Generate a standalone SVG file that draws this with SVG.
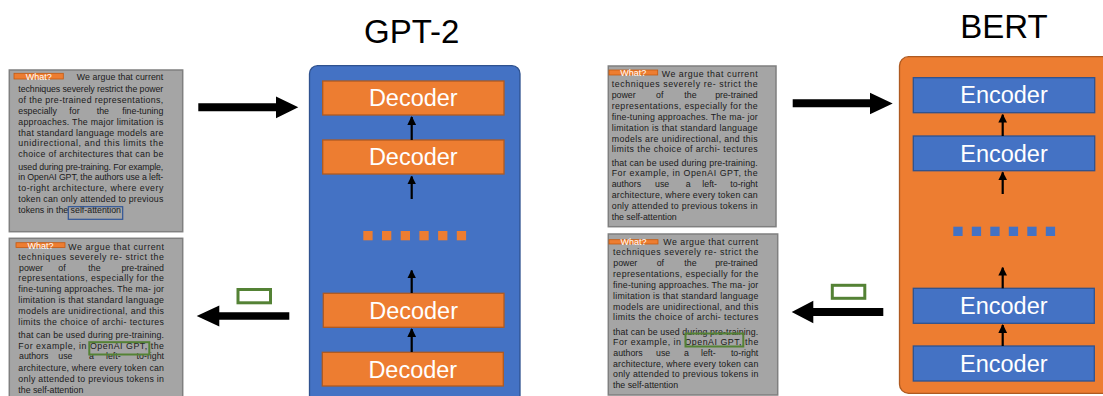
<svg xmlns="http://www.w3.org/2000/svg" width="1103" height="396" viewBox="0 0 1103 396">
<style>
.bg{fill:#ffffff}
.tbox{fill:#a5a5a5;stroke:#7f7f7f;stroke-width:1.5}
.lab{fill:#ed7d31;stroke:#c55a11;stroke-width:0.8}
.labt{font-family:"Liberation Sans",Arial,sans-serif;font-size:9px;fill:#ffffff;text-anchor:middle}
.t{font-family:"Liberation Sans",Arial,sans-serif;font-size:8.8px;fill:#1a1a1a}
.e{text-anchor:end}
.title{font-family:"Liberation Sans",Arial,sans-serif;font-size:33px;fill:#000000;text-anchor:middle}
.bluebox{fill:#4472c4;stroke:#2f528f;stroke-width:1.3}
.orbox{fill:#ed7d31;stroke:#ae5a21;stroke-width:1.3}
.lt{font-family:"Liberation Sans",Arial,sans-serif;font-size:23.5px;fill:#ffffff;text-anchor:middle}
.hl-blue{fill:none;stroke:#2f5597;stroke-width:1.2}
.hl-green{fill:none;stroke:#548235;stroke-width:2}
.gr{fill:#ffffff;stroke:#548235;stroke-width:3}
.big{fill:#000000}
.small{stroke:#000000;stroke-width:2.2;fill:none;marker-end:url(#ah)}
.dotO{fill:#ed7d31}
.dotB{fill:#4472c4}
</style>
<defs>
<marker id="ah" viewBox="0 0 10 10" refX="9" refY="5" markerWidth="4" markerHeight="4" orient="auto" markerUnits="strokeWidth">
<path d="M0,0 L10,5 L0,10 z" fill="#000000"/>
</marker>
</defs>
<rect class="bg" x="0" y="0" width="1103" height="396"/>

<g id="title-gpt2"><text class="title" x="411.7" y="42.5">GPT-2</text></g>
<g id="title-bert"><text class="title" x="1004" y="38.3">BERT</text></g>

<!-- Text box 1 -->
<g id="textbox-1">
<rect class="tbox" x="9.3" y="70" width="173.4" height="161.7"/>
<rect class="lab" x="14" y="73.3" width="49.3" height="5.7"/>
<text class="labt" x="38.7" y="80">What?</text>
<text class="t" x="76.7" y="80" textLength="86.6" lengthAdjust="spacing">We argue that current</text>
<text class="t" x="18.3" y="92" textLength="145" lengthAdjust="spacing">techniques severely restrict the power</text>
<text class="t" x="18.3" y="103" textLength="145" lengthAdjust="spacing">of the pre-trained representations,</text>
<text class="t" y="113.7"><tspan x="18.3">especially</tspan><tspan x="69.3">for</tspan><tspan x="96.7">the</tspan></text>
<text class="t e" x="163.3" y="113.7">fine-tuning</text>
<text class="t" x="18.3" y="124.7" textLength="145" lengthAdjust="spacing">approaches. The major limitation is</text>
<text class="t" x="18.3" y="135.7" textLength="145" lengthAdjust="spacing">that standard language models are</text>
<text class="t" x="18.3" y="146.3" textLength="145" lengthAdjust="spacing">unidirectional, and this limits the</text>
<text class="t" x="18.3" y="157" textLength="145" lengthAdjust="spacing">choice of architectures that can be</text>
<text class="t" x="18.3" y="170.3" textLength="145" lengthAdjust="spacing">used during pre-training. For example,</text>
<text class="t" x="18.3" y="180.3" textLength="145" lengthAdjust="spacing">in OpenAI GPT, the authors use a left-</text>
<text class="t" x="18.3" y="191" textLength="145" lengthAdjust="spacing">to-right architecture, where every</text>
<text class="t" x="18.3" y="201.7" textLength="145" lengthAdjust="spacing">token can only attended to previous</text>
<text class="t" x="18.3" y="213">tokens in the self-attention</text>
<rect class="hl-blue" x="68.3" y="206.7" width="54.4" height="12.6"/>
</g>

<!-- Text box 2 -->
<g id="textbox-2">
<rect class="tbox" x="9.3" y="238.3" width="173.4" height="165"/>
<rect class="lab" x="16" y="242.7" width="49" height="4.8"/>
<text class="labt" x="40.5" y="248.5">What?</text>
<text class="t" x="68.3" y="249.5" textLength="95.7" lengthAdjust="spacing">We argue that current</text>
<text class="t" x="18.3" y="260" textLength="145.7" lengthAdjust="spacing">techniques severely re- strict the</text>
<text class="t" y="270.5"><tspan x="19">power</tspan><tspan x="58.3">of</tspan><tspan x="88.3">the</tspan></text>
<text class="t e" x="164" y="270.5">pre-trained</text>
<text class="t" x="18.3" y="281" textLength="145.7" lengthAdjust="spacing">representations, especially for the</text>
<text class="t" x="18.3" y="292" textLength="145.7" lengthAdjust="spacing">fine-tuning approaches. The ma- jor</text>
<text class="t" x="18.3" y="303" textLength="145.7" lengthAdjust="spacing">limitation is that standard language</text>
<text class="t" x="18.3" y="314" textLength="145.7" lengthAdjust="spacing">models are unidirectional, and this</text>
<text class="t" x="18.3" y="325" textLength="145.7" lengthAdjust="spacing">limits the choice of archi- tectures</text>
<text class="t" x="18.3" y="337.5" textLength="145.7" lengthAdjust="spacing">that can be used during pre-training.</text>
<text class="t" x="18.3" y="348.7" textLength="145.7" lengthAdjust="spacing">For example, in OpenAI GPT, the</text>
<text class="t" y="359.3"><tspan x="19">authors</tspan><tspan x="58.3">use</tspan><tspan x="89">a</tspan><tspan x="106">left-</tspan></text>
<text class="t e" x="164" y="359.3">to-right</text>
<text class="t" x="18.3" y="370.5" textLength="145.7" lengthAdjust="spacing">architecture, where every token can</text>
<text class="t" x="18.3" y="381.7" textLength="145.7" lengthAdjust="spacing">only attended to previous tokens in</text>
<text class="t" x="18.3" y="393">the self-attention</text>
<rect class="hl-green" x="89.3" y="342.2" width="60" height="12.3"/>
</g>

<!-- Text box 3 -->
<g id="textbox-3">
<rect class="tbox" x="608.3" y="66" width="167.7" height="160.7"/>
<rect class="lab" x="609" y="70" width="48.7" height="5"/>
<text class="labt" x="633.3" y="76.3">What?</text>
<text class="t" x="661.7" y="77" textLength="96" lengthAdjust="spacing">We argue that current</text>
<text class="t" x="611.7" y="87.3" textLength="146" lengthAdjust="spacing">techniques severely re- strict the</text>
<text class="t" y="98"><tspan x="611.7">power</tspan><tspan x="656">of</tspan><tspan x="684.3">the</tspan></text>
<text class="t e" x="757.7" y="98">pre-trained</text>
<text class="t" x="611.7" y="108.7" textLength="146" lengthAdjust="spacing">representations, especially for the</text>
<text class="t" x="611.7" y="119.7" textLength="146" lengthAdjust="spacing">fine-tuning approaches. The ma- jor</text>
<text class="t" x="611.7" y="130.7" textLength="146" lengthAdjust="spacing">limitation is that standard language</text>
<text class="t" x="611.7" y="141.7" textLength="146" lengthAdjust="spacing">models are unidirectional, and this</text>
<text class="t" x="611.7" y="152.3" textLength="146" lengthAdjust="spacing">limits the choice of archi- tectures</text>
<text class="t" x="611.7" y="165.7" textLength="146" lengthAdjust="spacing">that can be used during pre-training.</text>
<text class="t" x="611.7" y="176.3" textLength="146" lengthAdjust="spacing">For example, in OpenAI GPT, the</text>
<text class="t" y="187"><tspan x="611.7">authors</tspan><tspan x="655">use</tspan><tspan x="685.7">a</tspan><tspan x="702.3">left-</tspan></text>
<text class="t e" x="757.7" y="187">to-right</text>
<text class="t" x="611.7" y="198" textLength="146" lengthAdjust="spacing">architecture, where every token can</text>
<text class="t" x="611.7" y="209" textLength="146" lengthAdjust="spacing">only attended to previous tokens in</text>
<text class="t" x="611.7" y="219.7">the self-attention</text>
</g>

<!-- Text box 4 -->
<g id="textbox-4">
<rect class="tbox" x="608.3" y="234" width="169.4" height="161"/>
<rect class="lab" x="609" y="239.7" width="49" height="4.3"/>
<text class="labt" x="633.5" y="245">What?</text>
<text class="t" x="663.3" y="245" textLength="95" lengthAdjust="spacing">We argue that current</text>
<text class="t" x="613" y="255.3" textLength="145.3" lengthAdjust="spacing">techniques severely re- strict the</text>
<text class="t" y="266"><tspan x="613.3">power</tspan><tspan x="656.7">of</tspan><tspan x="684.3">the</tspan></text>
<text class="t e" x="757.7" y="266">pre-trained</text>
<text class="t" x="613" y="276.7" textLength="145.3" lengthAdjust="spacing">representations, especially for the</text>
<text class="t" x="613" y="287.7" textLength="145.3" lengthAdjust="spacing">fine-tuning approaches. The ma- jor</text>
<text class="t" x="613" y="298.7" textLength="145.3" lengthAdjust="spacing">limitation is that standard language</text>
<text class="t" x="613" y="309.7" textLength="145.3" lengthAdjust="spacing">models are unidirectional, and this</text>
<text class="t" x="613" y="320.3" textLength="145.3" lengthAdjust="spacing">limits the choice of archi- tectures</text>
<text class="t" x="613" y="334.5" textLength="145.3" lengthAdjust="spacing">that can be used during pre-training.</text>
<text class="t" x="613" y="345.3" textLength="145.3" lengthAdjust="spacing">For example, in OpenAI GPT, the</text>
<text class="t" y="356.3"><tspan x="613.3">authors</tspan><tspan x="656">use</tspan><tspan x="684">a</tspan><tspan x="701">left-</tspan></text>
<text class="t e" x="758.3" y="356.3">to-right</text>
<text class="t" x="613" y="367" textLength="145.3" lengthAdjust="spacing">architecture, where every token can</text>
<text class="t" x="613" y="377.3" textLength="145.3" lengthAdjust="spacing">only attended to previous tokens in</text>
<text class="t" x="613" y="388">the self-attention</text>
<rect class="hl-green" x="685.5" y="333.5" width="57.8" height="13"/>
</g>

<!-- GPT-2 stack -->
<g id="gpt2-container">
<rect class="bluebox" x="309.5" y="65.7" width="210.5" height="340" rx="8"/>
</g>
<g id="decoder-1"><rect class="orbox" x="322.7" y="81" width="181.3" height="34"/><text class="lt" x="413.3" y="106.3">Decoder</text></g>
<g id="decoder-2"><rect class="orbox" x="322.7" y="140" width="181.3" height="34"/><text class="lt" x="413.3" y="165.3">Decoder</text></g>
<g id="decoder-dots">
<rect class="dotO" x="363.3" y="231" width="9.3" height="9.3"/>
<rect class="dotO" x="382" y="231" width="9.3" height="9.3"/>
<rect class="dotO" x="400.7" y="231" width="9.3" height="9.3"/>
<rect class="dotO" x="419.4" y="231" width="9.3" height="9.3"/>
<rect class="dotO" x="438.1" y="231" width="9.3" height="9.3"/>
<rect class="dotO" x="456.8" y="231" width="9.3" height="9.3"/>
</g>
<g id="decoder-3"><rect class="orbox" x="323.3" y="293.3" width="180.7" height="34"/><text class="lt" x="413.6" y="318.6">Decoder</text></g>
<g id="decoder-4"><rect class="orbox" x="322.3" y="352.3" width="181" height="33.7"/><text class="lt" x="412.8" y="377.5">Decoder</text></g>

<!-- BERT stack -->
<g id="bert-container">
<rect class="orbox" x="899.5" y="56.7" width="220" height="336.6" rx="9"/>
</g>
<g id="encoder-1"><rect class="bluebox" x="913.3" y="77.7" width="181.4" height="35"/><text class="lt" x="1004" y="103.3">Encoder</text></g>
<g id="encoder-2"><rect class="bluebox" x="913.3" y="136" width="181.4" height="34.7"/><text class="lt" x="1004" y="161.5">Encoder</text></g>
<g id="encoder-dots">
<rect class="dotB" x="953.3" y="226.7" width="9.3" height="9.3"/>
<rect class="dotB" x="971.8" y="226.7" width="9.3" height="9.3"/>
<rect class="dotB" x="990.3" y="226.7" width="9.3" height="9.3"/>
<rect class="dotB" x="1008.8" y="226.7" width="9.3" height="9.3"/>
<rect class="dotB" x="1027.3" y="226.7" width="9.3" height="9.3"/>
<rect class="dotB" x="1045.8" y="226.7" width="9.3" height="9.3"/>
</g>
<g id="encoder-3"><rect class="bluebox" x="913.3" y="288.3" width="181" height="35"/><text class="lt" x="1003.8" y="314">Encoder</text></g>
<g id="encoder-4"><rect class="bluebox" x="913.3" y="346" width="181" height="35"/><text class="lt" x="1003.8" y="371.7">Encoder</text></g>

<!-- Output markers -->
<g id="output-gpt2"><rect class="gr" x="238" y="289.5" width="32.5" height="13.3"/></g>
<g id="output-bert"><rect class="gr" x="832.3" y="285.3" width="32.5" height="13"/></g>

<g id="connectors">
<polygon class="big" points="198.3,103.3 276,103.3 276,96.5 298.3,107.3 276,118.2 276,111.3 198.3,111.3"/>
<polygon class="big" points="289.3,312.2 219.3,312.2 219.3,305.5 196.7,316 219.3,326.5 219.3,319.8 289.3,319.8"/>
<polygon class="big" points="792.7,99.3 870,99.3 870,92.7 892.7,103.5 870,114.3 870,107.3 792.7,107.3"/>
<polygon class="big" points="883.3,308 813.3,308 813.3,300.7 791.7,312 813.3,323.3 813.3,316 883.3,316"/>
<line class="small" x1="411.7" y1="140" x2="411.7" y2="117"/>
<line class="small" x1="411.7" y1="199" x2="411.7" y2="176.5"/>
<line class="small" x1="411.7" y1="293" x2="411.7" y2="270.5"/>
<line class="small" x1="411.7" y1="352" x2="411.7" y2="329"/>
<line class="small" x1="1002.7" y1="136" x2="1002.7" y2="114.7"/>
<line class="small" x1="1002.7" y1="194" x2="1002.7" y2="172.3"/>
<line class="small" x1="1002.7" y1="288.3" x2="1002.7" y2="267.7"/>
<line class="small" x1="1002.7" y1="346" x2="1002.7" y2="325"/>
</g>
</svg>
